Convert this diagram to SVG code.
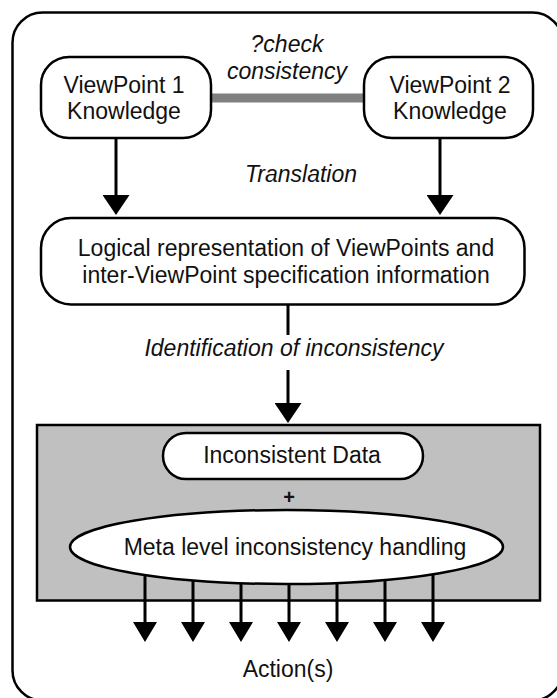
<svg xmlns="http://www.w3.org/2000/svg" width="557" height="698" viewBox="0 0 557 698">
<style>
  .box { fill: #ffffff; stroke: #000000; stroke-width: 2.5; }
  .t { font-family: "Liberation Sans", Arial, sans-serif; font-size: 23px; fill: #111111; text-anchor: middle; }
  .it { font-style: italic; }
  .conn { stroke: #000000; stroke-width: 3; fill: none; }
</style>
<defs>
  <marker id="ah" markerUnits="userSpaceOnUse" viewBox="0 0 20 27" markerWidth="20" markerHeight="27" refX="10" refY="13.5" orient="auto">
    <path d="M0,0 L20,13.5 L0,27 Z" fill="#000000"/>
  </marker>
  <marker id="ah2" markerUnits="userSpaceOnUse" viewBox="0 0 20 24" markerWidth="20" markerHeight="24" refX="10" refY="12" orient="auto">
    <path d="M0,0 L20,12 L0,24 Z" fill="#000000"/>
  </marker>
</defs>
<rect x="0" y="0" width="557" height="698" fill="#ffffff"/>
<g id="frame">
  <rect x="12.5" y="12.5" width="550" height="688" rx="30" ry="30" fill="#ffffff" stroke="#000000" stroke-width="2.5"/>
</g>
<g id="handling-area">
  <rect x="37" y="425" width="503" height="175.5" fill="#c0c0c0" stroke="#000000" stroke-width="2.5"/>
</g>
<g id="connectors">
  <line x1="211" y1="98" x2="364" y2="98" stroke="#808080" stroke-width="9"/>
  <line class="conn" x1="116" y1="138" x2="116" y2="205" marker-end="url(#ah)"/>
  <line class="conn" x1="440" y1="138" x2="440" y2="205" marker-end="url(#ah)"/>
  <path class="conn" d="M288,304 V335 M288,370 V413" marker-end="url(#ah)"/>
  <line class="conn" x1="145" y1="565" x2="145" y2="632" marker-end="url(#ah2)"/>
  <line class="conn" x1="193" y1="565" x2="193" y2="632" marker-end="url(#ah2)"/>
  <line class="conn" x1="241" y1="565" x2="241" y2="632" marker-end="url(#ah2)"/>
  <line class="conn" x1="289" y1="565" x2="289" y2="632" marker-end="url(#ah2)"/>
  <line class="conn" x1="337" y1="565" x2="337" y2="632" marker-end="url(#ah2)"/>
  <line class="conn" x1="385" y1="565" x2="385" y2="632" marker-end="url(#ah2)"/>
  <line class="conn" x1="433" y1="565" x2="433" y2="632" marker-end="url(#ah2)"/>
  <text class="t it" x="287" y="52">?check</text>
  <text class="t it" x="287" y="79">consistency</text>
  <text class="t it" x="301" y="182">Translation</text>
  <text class="t it" x="294" y="356">Identification of inconsistency</text>
</g>
<g id="vp1">
  <rect class="box" x="41" y="57" width="170" height="81" rx="28" ry="28"/>
  <text class="t" x="124" y="93">ViewPoint 1</text>
  <text class="t" x="124" y="119">Knowledge</text>
</g>
<g id="vp2">
  <rect class="box" x="364" y="57" width="169" height="81" rx="28" ry="28"/>
  <text class="t" x="450" y="93">ViewPoint 2</text>
  <text class="t" x="450" y="119">Knowledge</text>
</g>
<g id="logical">
  <rect class="box" x="41" y="218" width="483.5" height="86.5" rx="30" ry="30"/>
  <text class="t" x="286" y="256">Logical representation of ViewPoints and</text>
  <text class="t" x="286" y="283">inter-ViewPoint specification information</text>
</g>
<g id="inconsistent-data">
  <rect class="box" x="163" y="433" width="260" height="46" rx="23" ry="23"/>
  <text class="t" x="292" y="463">Inconsistent Data</text>
</g>
<g id="plus">
  <text class="t" x="289" y="504" style="font-weight:bold;font-size:20px">+</text>
</g>
<g id="meta">
  <ellipse class="box" cx="286.5" cy="547" rx="216.5" ry="37"/>
  <text class="t" x="295" y="555">Meta level inconsistency handling</text>
</g>
<g id="actions">
  <text class="t" x="288" y="677">Action(s)</text>
</g>
</svg>
